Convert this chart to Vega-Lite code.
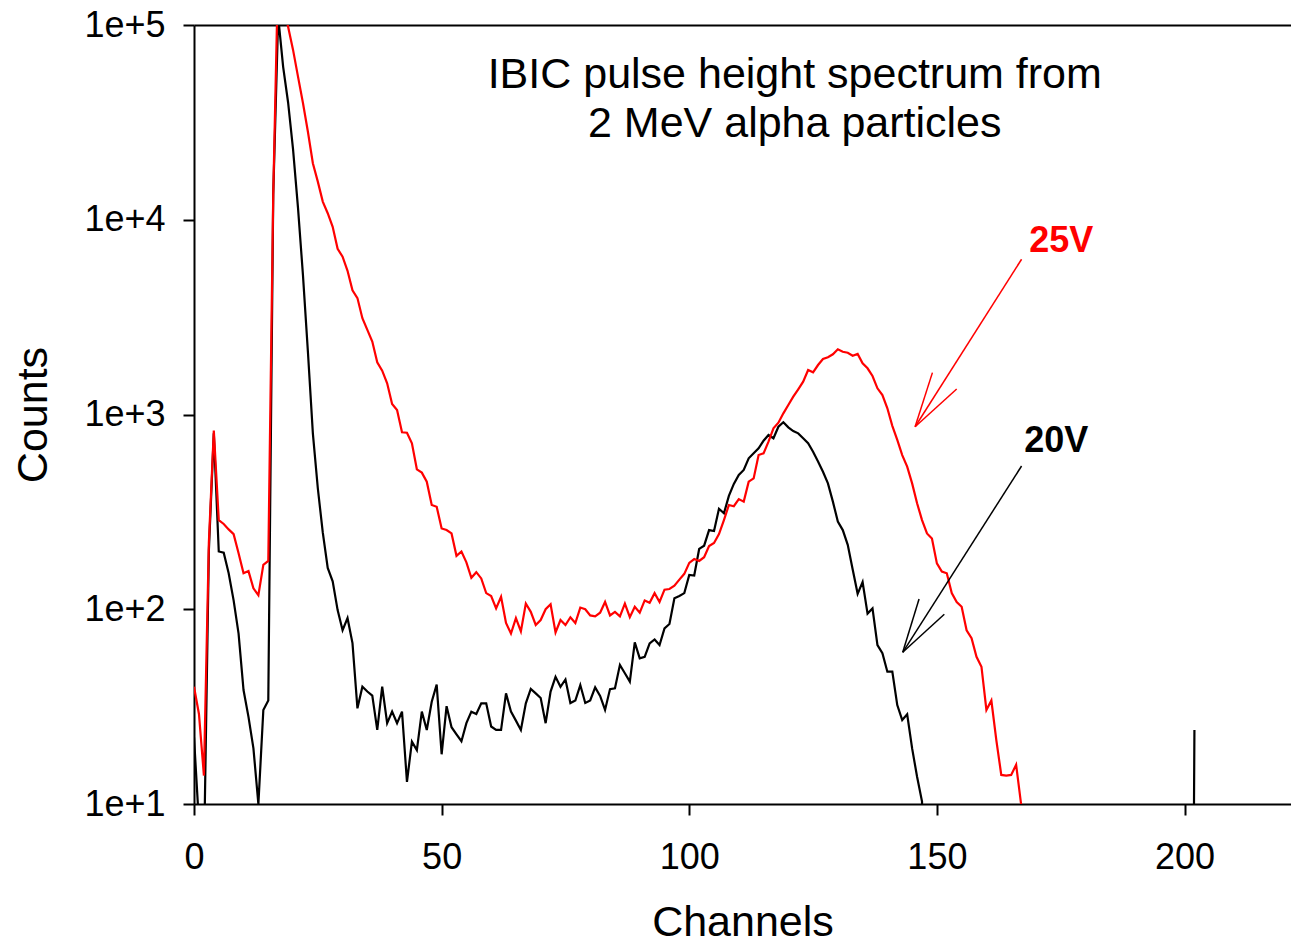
{
 "$schema": "https://vega.github.io/schema/vega-lite/v6.json",
 "autosize": {"type": "none"},
 "padding": {"left": 194, "top": 25, "right": 0, "bottom": 141},
 "width": 1097,
 "height": 779,
 "config": {
  "font": "Liberation Sans",
  "view": {"stroke": null},
  "axis": {"domainColor": "#000000", "domainWidth": 2, "tickColor": "#000000", "tickWidth": 2, "tickSize": 11, "labelColor": "#000000", "titleColor": "#000000", "labelFont": "Liberation Sans", "titleFont": "Liberation Sans", "labelFontSize": 36, "titleFontSize": 43, "titleFontWeight": "normal", "grid": false, "labelFlush": false, "labelOverlap": false}
 },
 "datasets": {
  "spectra": [
   {"s":"20V","ch":0,"c":22},{"s":"20V","ch":1,"c":8},{"s":"20V","ch":2,"c":5},{"s":"20V","ch":3,"c":200},{"s":"20V","ch":4,"c":800},{"s":"20V","ch":5,"c":198},{"s":"20V","ch":6,"c":195},{"s":"20V","ch":7,"c":153},{"s":"20V","ch":8,"c":111},{"s":"20V","ch":9,"c":75},
   {"s":"20V","ch":10,"c":38.5},{"s":"20V","ch":11,"c":28},{"s":"20V","ch":12,"c":19.3},{"s":"20V","ch":13,"c":10},{"s":"20V","ch":14,"c":30.4},{"s":"20V","ch":15,"c":34},{"s":"20V","ch":16,"c":13500},{"s":"20V","ch":17,"c":110000},{"s":"20V","ch":18,"c":61000},{"s":"20V","ch":19,"c":40000},
   {"s":"20V","ch":20,"c":23000},{"s":"20V","ch":21,"c":11500},{"s":"20V","ch":22,"c":5200},{"s":"20V","ch":23,"c":2100},{"s":"20V","ch":24,"c":800},{"s":"20V","ch":25,"c":418},{"s":"20V","ch":26,"c":248},{"s":"20V","ch":27,"c":163},{"s":"20V","ch":28,"c":139},{"s":"20V","ch":29,"c":99},
   {"s":"20V","ch":30,"c":78},{"s":"20V","ch":31,"c":90},{"s":"20V","ch":32,"c":67},{"s":"20V","ch":33,"c":31},{"s":"20V","ch":34,"c":40},{"s":"20V","ch":35,"c":37.8},{"s":"20V","ch":36,"c":36},{"s":"20V","ch":37,"c":24},{"s":"20V","ch":38,"c":40},{"s":"20V","ch":39,"c":26},
   {"s":"20V","ch":40,"c":29.8},{"s":"20V","ch":41,"c":26},{"s":"20V","ch":42,"c":29.8},{"s":"20V","ch":43,"c":13},{"s":"20V","ch":44,"c":20.9},{"s":"20V","ch":45,"c":18.9},{"s":"20V","ch":46,"c":29.8},{"s":"20V","ch":47,"c":24},{"s":"20V","ch":48,"c":33.5},{"s":"20V","ch":49,"c":41},
   {"s":"20V","ch":50,"c":18},{"s":"20V","ch":51,"c":31.8},{"s":"20V","ch":52,"c":24.8},{"s":"20V","ch":53,"c":22.8},{"s":"20V","ch":54,"c":21},{"s":"20V","ch":55,"c":26},{"s":"20V","ch":56,"c":29.8},{"s":"20V","ch":57,"c":29},{"s":"20V","ch":58,"c":32.9},{"s":"20V","ch":59,"c":32.9},
   {"s":"20V","ch":60,"c":25},{"s":"20V","ch":61,"c":24},{"s":"20V","ch":62,"c":24},{"s":"20V","ch":63,"c":37},{"s":"20V","ch":64,"c":29.8},{"s":"20V","ch":65,"c":26.8},{"s":"20V","ch":66,"c":24},{"s":"20V","ch":67,"c":32.9},{"s":"20V","ch":68,"c":39},{"s":"20V","ch":69,"c":37},
   {"s":"20V","ch":70,"c":35},{"s":"20V","ch":71,"c":26},{"s":"20V","ch":72,"c":37.8},{"s":"20V","ch":73,"c":45},{"s":"20V","ch":74,"c":40},{"s":"20V","ch":75,"c":43.6},{"s":"20V","ch":76,"c":33},{"s":"20V","ch":77,"c":34},{"s":"20V","ch":78,"c":40.8},{"s":"20V","ch":79,"c":33},
   {"s":"20V","ch":80,"c":34},{"s":"20V","ch":81,"c":39.7},{"s":"20V","ch":82,"c":35.9},{"s":"20V","ch":83,"c":30.4},{"s":"20V","ch":84,"c":38.9},{"s":"20V","ch":85,"c":39.3},{"s":"20V","ch":86,"c":51.8},{"s":"20V","ch":87,"c":46.9},{"s":"20V","ch":88,"c":42.5},{"s":"20V","ch":89,"c":67.6},
   {"s":"20V","ch":90,"c":56},{"s":"20V","ch":91,"c":57},{"s":"20V","ch":92,"c":66.8},{"s":"20V","ch":93,"c":70},{"s":"20V","ch":94,"c":65.5},{"s":"20V","ch":95,"c":79.8},{"s":"20V","ch":96,"c":84},{"s":"20V","ch":97,"c":114},{"s":"20V","ch":98,"c":117},{"s":"20V","ch":99,"c":121},
   {"s":"20V","ch":100,"c":150},{"s":"20V","ch":101,"c":149},{"s":"20V","ch":102,"c":204},{"s":"20V","ch":103,"c":212},{"s":"20V","ch":104,"c":255},{"s":"20V","ch":105,"c":252},{"s":"20V","ch":106,"c":328},{"s":"20V","ch":107,"c":311},{"s":"20V","ch":108,"c":382},{"s":"20V","ch":109,"c":440},
   {"s":"20V","ch":110,"c":489},{"s":"20V","ch":111,"c":519},{"s":"20V","ch":112,"c":596},{"s":"20V","ch":113,"c":632},{"s":"20V","ch":114,"c":670},{"s":"20V","ch":115,"c":733},{"s":"20V","ch":116,"c":785},{"s":"20V","ch":117,"c":755},{"s":"20V","ch":118,"c":865},{"s":"20V","ch":119,"c":912},
   {"s":"20V","ch":120,"c":859},{"s":"20V","ch":121,"c":822},{"s":"20V","ch":122,"c":800},{"s":"20V","ch":123,"c":755},{"s":"20V","ch":124,"c":712},{"s":"20V","ch":125,"c":644},{"s":"20V","ch":126,"c":573},{"s":"20V","ch":127,"c":508},{"s":"20V","ch":128,"c":443},{"s":"20V","ch":129,"c":357},
   {"s":"20V","ch":130,"c":282},{"s":"20V","ch":131,"c":255},{"s":"20V","ch":132,"c":214},{"s":"20V","ch":133,"c":160},{"s":"20V","ch":134,"c":120},{"s":"20V","ch":135,"c":138},{"s":"20V","ch":136,"c":95},{"s":"20V","ch":137,"c":101},{"s":"20V","ch":138,"c":65.5},{"s":"20V","ch":139,"c":59.4},
   {"s":"20V","ch":140,"c":47.8},{"s":"20V","ch":141,"c":47.8},{"s":"20V","ch":142,"c":32.2},{"s":"20V","ch":143,"c":27},{"s":"20V","ch":144,"c":28.9},{"s":"20V","ch":145,"c":19.3},{"s":"20V","ch":146,"c":13.8},{"s":"20V","ch":147,"c":10.3},{"s":"20V","ch":148,"c":0.001},
   {"s":"20V","ch":201,"c":0.001},{"s":"20V","ch":202,"c":24},
   {"s":"25V","ch":0,"c":40},{"s":"25V","ch":1,"c":29},{"s":"25V","ch":2,"c":14},{"s":"25V","ch":3,"c":220},{"s":"25V","ch":4,"c":826},{"s":"25V","ch":5,"c":287},{"s":"25V","ch":6,"c":274},{"s":"25V","ch":7,"c":257},{"s":"25V","ch":8,"c":243},{"s":"25V","ch":9,"c":194},
   {"s":"25V","ch":10,"c":153},{"s":"25V","ch":11,"c":157},{"s":"25V","ch":12,"c":128},{"s":"25V","ch":13,"c":118},{"s":"25V","ch":14,"c":169},{"s":"25V","ch":15,"c":177},{"s":"25V","ch":16,"c":13500},{"s":"25V","ch":17,"c":200000},{"s":"25V","ch":18,"c":130000},{"s":"25V","ch":19,"c":98000},
   {"s":"25V","ch":20,"c":74500},{"s":"25V","ch":21,"c":54300},{"s":"25V","ch":22,"c":39800},{"s":"25V","ch":23,"c":28300},{"s":"25V","ch":24,"c":19500},{"s":"25V","ch":25,"c":15700},{"s":"25V","ch":26,"c":12400},{"s":"25V","ch":27,"c":10800},{"s":"25V","ch":28,"c":9200},{"s":"25V","ch":29,"c":7100},
   {"s":"25V","ch":30,"c":6460},{"s":"25V","ch":31,"c":5470},{"s":"25V","ch":32,"c":4340},{"s":"25V","ch":33,"c":3960},{"s":"25V","ch":34,"c":3120},{"s":"25V","ch":35,"c":2720},{"s":"25V","ch":36,"c":2370},{"s":"25V","ch":37,"c":1855},{"s":"25V","ch":38,"c":1680},{"s":"25V","ch":39,"c":1446},
   {"s":"25V","ch":40,"c":1132},{"s":"25V","ch":41,"c":1055},{"s":"25V","ch":42,"c":810},{"s":"25V","ch":43,"c":806},{"s":"25V","ch":44,"c":712},{"s":"25V","ch":45,"c":523},{"s":"25V","ch":46,"c":503},{"s":"25V","ch":47,"c":452},{"s":"25V","ch":48,"c":343},{"s":"25V","ch":49,"c":336},
   {"s":"25V","ch":50,"c":260},{"s":"25V","ch":51,"c":255},{"s":"25V","ch":52,"c":245},{"s":"25V","ch":53,"c":188},{"s":"25V","ch":54,"c":198},{"s":"25V","ch":55,"c":174},{"s":"25V","ch":56,"c":145},{"s":"25V","ch":57,"c":155},{"s":"25V","ch":58,"c":144},{"s":"25V","ch":59,"c":121},
   {"s":"25V","ch":60,"c":117},{"s":"25V","ch":61,"c":101},{"s":"25V","ch":62,"c":116},{"s":"25V","ch":63,"c":85},{"s":"25V","ch":64,"c":75},{"s":"25V","ch":65,"c":90},{"s":"25V","ch":66,"c":77},{"s":"25V","ch":67,"c":107},{"s":"25V","ch":68,"c":97},{"s":"25V","ch":69,"c":83},
   {"s":"25V","ch":70,"c":88},{"s":"25V","ch":71,"c":100},{"s":"25V","ch":72,"c":106},{"s":"25V","ch":73,"c":76},{"s":"25V","ch":74,"c":88},{"s":"25V","ch":75,"c":83},{"s":"25V","ch":76,"c":91},{"s":"25V","ch":77,"c":85},{"s":"25V","ch":78,"c":102},{"s":"25V","ch":79,"c":100},
   {"s":"25V","ch":80,"c":93},{"s":"25V","ch":81,"c":92},{"s":"25V","ch":82,"c":96},{"s":"25V","ch":83,"c":109},{"s":"25V","ch":84,"c":93},{"s":"25V","ch":85,"c":97},{"s":"25V","ch":86,"c":92},{"s":"25V","ch":87,"c":107},{"s":"25V","ch":88,"c":91},{"s":"25V","ch":89,"c":103},
   {"s":"25V","ch":90,"c":96},{"s":"25V","ch":91,"c":111},{"s":"25V","ch":92,"c":108},{"s":"25V","ch":93,"c":121},{"s":"25V","ch":94,"c":109},{"s":"25V","ch":95,"c":126},{"s":"25V","ch":96,"c":127},{"s":"25V","ch":97,"c":132},{"s":"25V","ch":98,"c":142},{"s":"25V","ch":99,"c":152},
   {"s":"25V","ch":100,"c":173},{"s":"25V","ch":101,"c":181},{"s":"25V","ch":102,"c":177},{"s":"25V","ch":103,"c":185},{"s":"25V","ch":104,"c":211},{"s":"25V","ch":105,"c":219},{"s":"25V","ch":106,"c":243},{"s":"25V","ch":107,"c":287},{"s":"25V","ch":108,"c":343},{"s":"25V","ch":109,"c":338},
   {"s":"25V","ch":110,"c":368},{"s":"25V","ch":111,"c":357},{"s":"25V","ch":112,"c":452},{"s":"25V","ch":113,"c":470},{"s":"25V","ch":114,"c":619},{"s":"25V","ch":115,"c":632},{"s":"25V","ch":116,"c":725},{"s":"25V","ch":117,"c":849},{"s":"25V","ch":118,"c":908},{"s":"25V","ch":119,"c":1014},
   {"s":"25V","ch":120,"c":1119},{"s":"25V","ch":121,"c":1235},{"s":"25V","ch":122,"c":1347},{"s":"25V","ch":123,"c":1474},{"s":"25V","ch":124,"c":1692},{"s":"25V","ch":125,"c":1647},{"s":"25V","ch":126,"c":1795},{"s":"25V","ch":127,"c":1928},{"s":"25V","ch":128,"c":1968},{"s":"25V","ch":129,"c":2038},
   {"s":"25V","ch":130,"c":2162},{"s":"25V","ch":131,"c":2101},{"s":"25V","ch":132,"c":2076},{"s":"25V","ch":133,"c":2003},{"s":"25V","ch":134,"c":2046},{"s":"25V","ch":135,"c":1833},{"s":"25V","ch":136,"c":1727},{"s":"25V","ch":137,"c":1577},{"s":"25V","ch":138,"c":1363},{"s":"25V","ch":139,"c":1259},
   {"s":"25V","ch":140,"c":1076},{"s":"25V","ch":141,"c":875},{"s":"25V","ch":142,"c":740},{"s":"25V","ch":143,"c":619},{"s":"25V","ch":144,"c":540},{"s":"25V","ch":145,"c":443},{"s":"25V","ch":146,"c":350},{"s":"25V","ch":147,"c":287},{"s":"25V","ch":148,"c":245},{"s":"25V","ch":149,"c":231},
   {"s":"25V","ch":150,"c":172},{"s":"25V","ch":151,"c":156},{"s":"25V","ch":152,"c":153},{"s":"25V","ch":153,"c":121},{"s":"25V","ch":154,"c":109},{"s":"25V","ch":155,"c":103},{"s":"25V","ch":156,"c":78},{"s":"25V","ch":157,"c":71},{"s":"25V","ch":158,"c":57},{"s":"25V","ch":159,"c":50.7},
   {"s":"25V","ch":160,"c":30.4},{"s":"25V","ch":161,"c":34},{"s":"25V","ch":162,"c":21.3},{"s":"25V","ch":163,"c":14.1},{"s":"25V","ch":164,"c":14},{"s":"25V","ch":165,"c":14.1},{"s":"25V","ch":166,"c":15.9},{"s":"25V","ch":167,"c":10},{"s":"25V","ch":168,"c":0.001}
  ],
  "arrows": [
   {"s":"25V","ch":167.1,"c":6270,"ch2":145.6,"c2":865},
   {"s":"25V","ch":149.1,"c":1641,"ch2":145.6,"c2":865},
   {"s":"25V","ch":154.0,"c":1352,"ch2":145.6,"c2":865},
   {"s":"20V","ch":167.1,"c":544,"ch2":143.1,"c2":60.1},
   {"s":"20V","ch":146.4,"c":112.9,"ch2":143.1,"c2":60.1},
   {"s":"20V","ch":151.5,"c":94.2,"ch2":143.1,"c2":60.1}
  ],
  "titleText": [
   {"t":"IBIC pulse height spectrum from","ch":121.3,"c":47200},
   {"t":"2 MeV alpha particles","ch":121.3,"c":26450}
  ],
  "labels": [
   {"s":"25V","ch":175.1,"c":6810},
   {"s":"20V","ch":174.1,"c":644}
  ]
 },
 "resolve": {"axis": {"x": "independent", "y": "independent"}},
 "layer": [
  {
   "data": {"name": "spectra"},
   "mark": {"type": "line", "clip": true, "strokeWidth": 2.2},
   "encoding": {
    "x": {"field": "ch", "type": "quantitative", "scale": {"domain": [0, 221.5], "nice": false, "zero": false},
          "axis": {"orient": "bottom", "values": [0, 50, 100, 150, 200], "title": "Channels", "labelPadding": 25, "titlePadding": 26}},
    "y": {"field": "c", "type": "quantitative", "scale": {"type": "log", "domain": [10, 100000], "nice": false},
          "axis": {"orient": "left", "values": [10, 100, 1000, 10000, 100000], "labelExpr": "'1e+' + round(log(datum.value)/LN10)", "title": "Counts", "labelPadding": 18, "titlePadding": 28}},
    "color": {"field": "s", "type": "nominal", "scale": {"domain": ["20V", "25V"], "range": ["#000000", "#ff0000"]}, "legend": null},
    "order": {"field": "ch", "type": "quantitative"}
   }
  },
  {
   "data": {"name": "arrows"},
   "mark": {"type": "rule", "strokeWidth": 1.5},
   "encoding": {
    "x": {"field": "ch", "type": "quantitative", "axis": null},
    "x2": {"field": "ch2"},
    "y": {"field": "c", "type": "quantitative", "axis": null},
    "y2": {"field": "c2"},
    "color": {"field": "s", "type": "nominal", "legend": null}
   }
  },
  {
   "data": {"name": "titleText"},
   "mark": {"type": "text", "fontSize": 43, "align": "center", "baseline": "alphabetic", "color": "#000000", "font": "Liberation Sans"},
   "encoding": {
    "x": {"field": "ch", "type": "quantitative", "axis": {"orient": "top", "labels": false, "ticks": false, "title": null}},
    "y": {"field": "c", "type": "quantitative", "axis": null},
    "text": {"field": "t"}
   }
  },
  {
   "data": {"name": "labels"},
   "mark": {"type": "text", "fontSize": 36, "fontWeight": "bold", "align": "center", "baseline": "alphabetic", "font": "Liberation Sans"},
   "encoding": {
    "x": {"field": "ch", "type": "quantitative", "axis": null},
    "y": {"field": "c", "type": "quantitative", "axis": null},
    "text": {"field": "s"},
    "color": {"field": "s", "type": "nominal", "legend": null}
   }
  }
 ]
}
